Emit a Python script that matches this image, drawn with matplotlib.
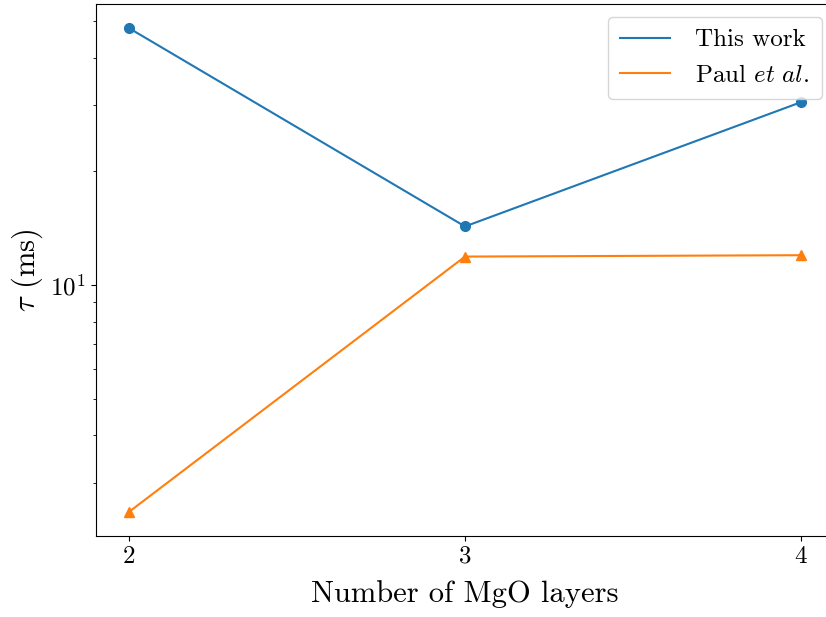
import matplotlib
matplotlib.use('Agg')
import matplotlib.pyplot as plt

plt.rcParams['font.family'] = 'serif'
plt.rcParams['font.serif'] = ['cmr10']
plt.rcParams['mathtext.fontset'] = 'cm'
plt.rcParams['axes.formatter.use_mathtext'] = True

# Relaxation time vs MgO thickness
layers = [2, 3, 4]
tau_this_work = [47.9, 14.3, 30.5]
tau_paul = [2.51, 11.9, 12.0]

fig = plt.figure(figsize=(8.26, 6.17), dpi=100)
# axes run a little past the right edge of the canvas
ax = fig.add_axes([95.5 / 826, 1 - 536 / 617, 739 / 826, 532 / 617])

ax.plot(layers, tau_this_work, color='C0', label='This work')
ax.plot(layers, tau_this_work, 'o', color='C0', markersize=7)
ax.plot(layers, tau_paul, color='C1', label=r'Paul $\mathit{et\ al.}$')
ax.plot(layers, tau_paul, '^', color='C1', markersize=7)

ax.set_yscale('log')
ax.set_xticks(layers)
ax.tick_params(labelsize=18)
ax.set_xlabel('Number of MgO layers', fontsize=22, labelpad=9)
ax.set_ylabel(r'$\tau$ (ms)', fontsize=22)
ax.legend(loc='upper right', fontsize=18, handletextpad=1.0,
          borderpad=0.5)

plt.savefig('out.png', dpi=100)
